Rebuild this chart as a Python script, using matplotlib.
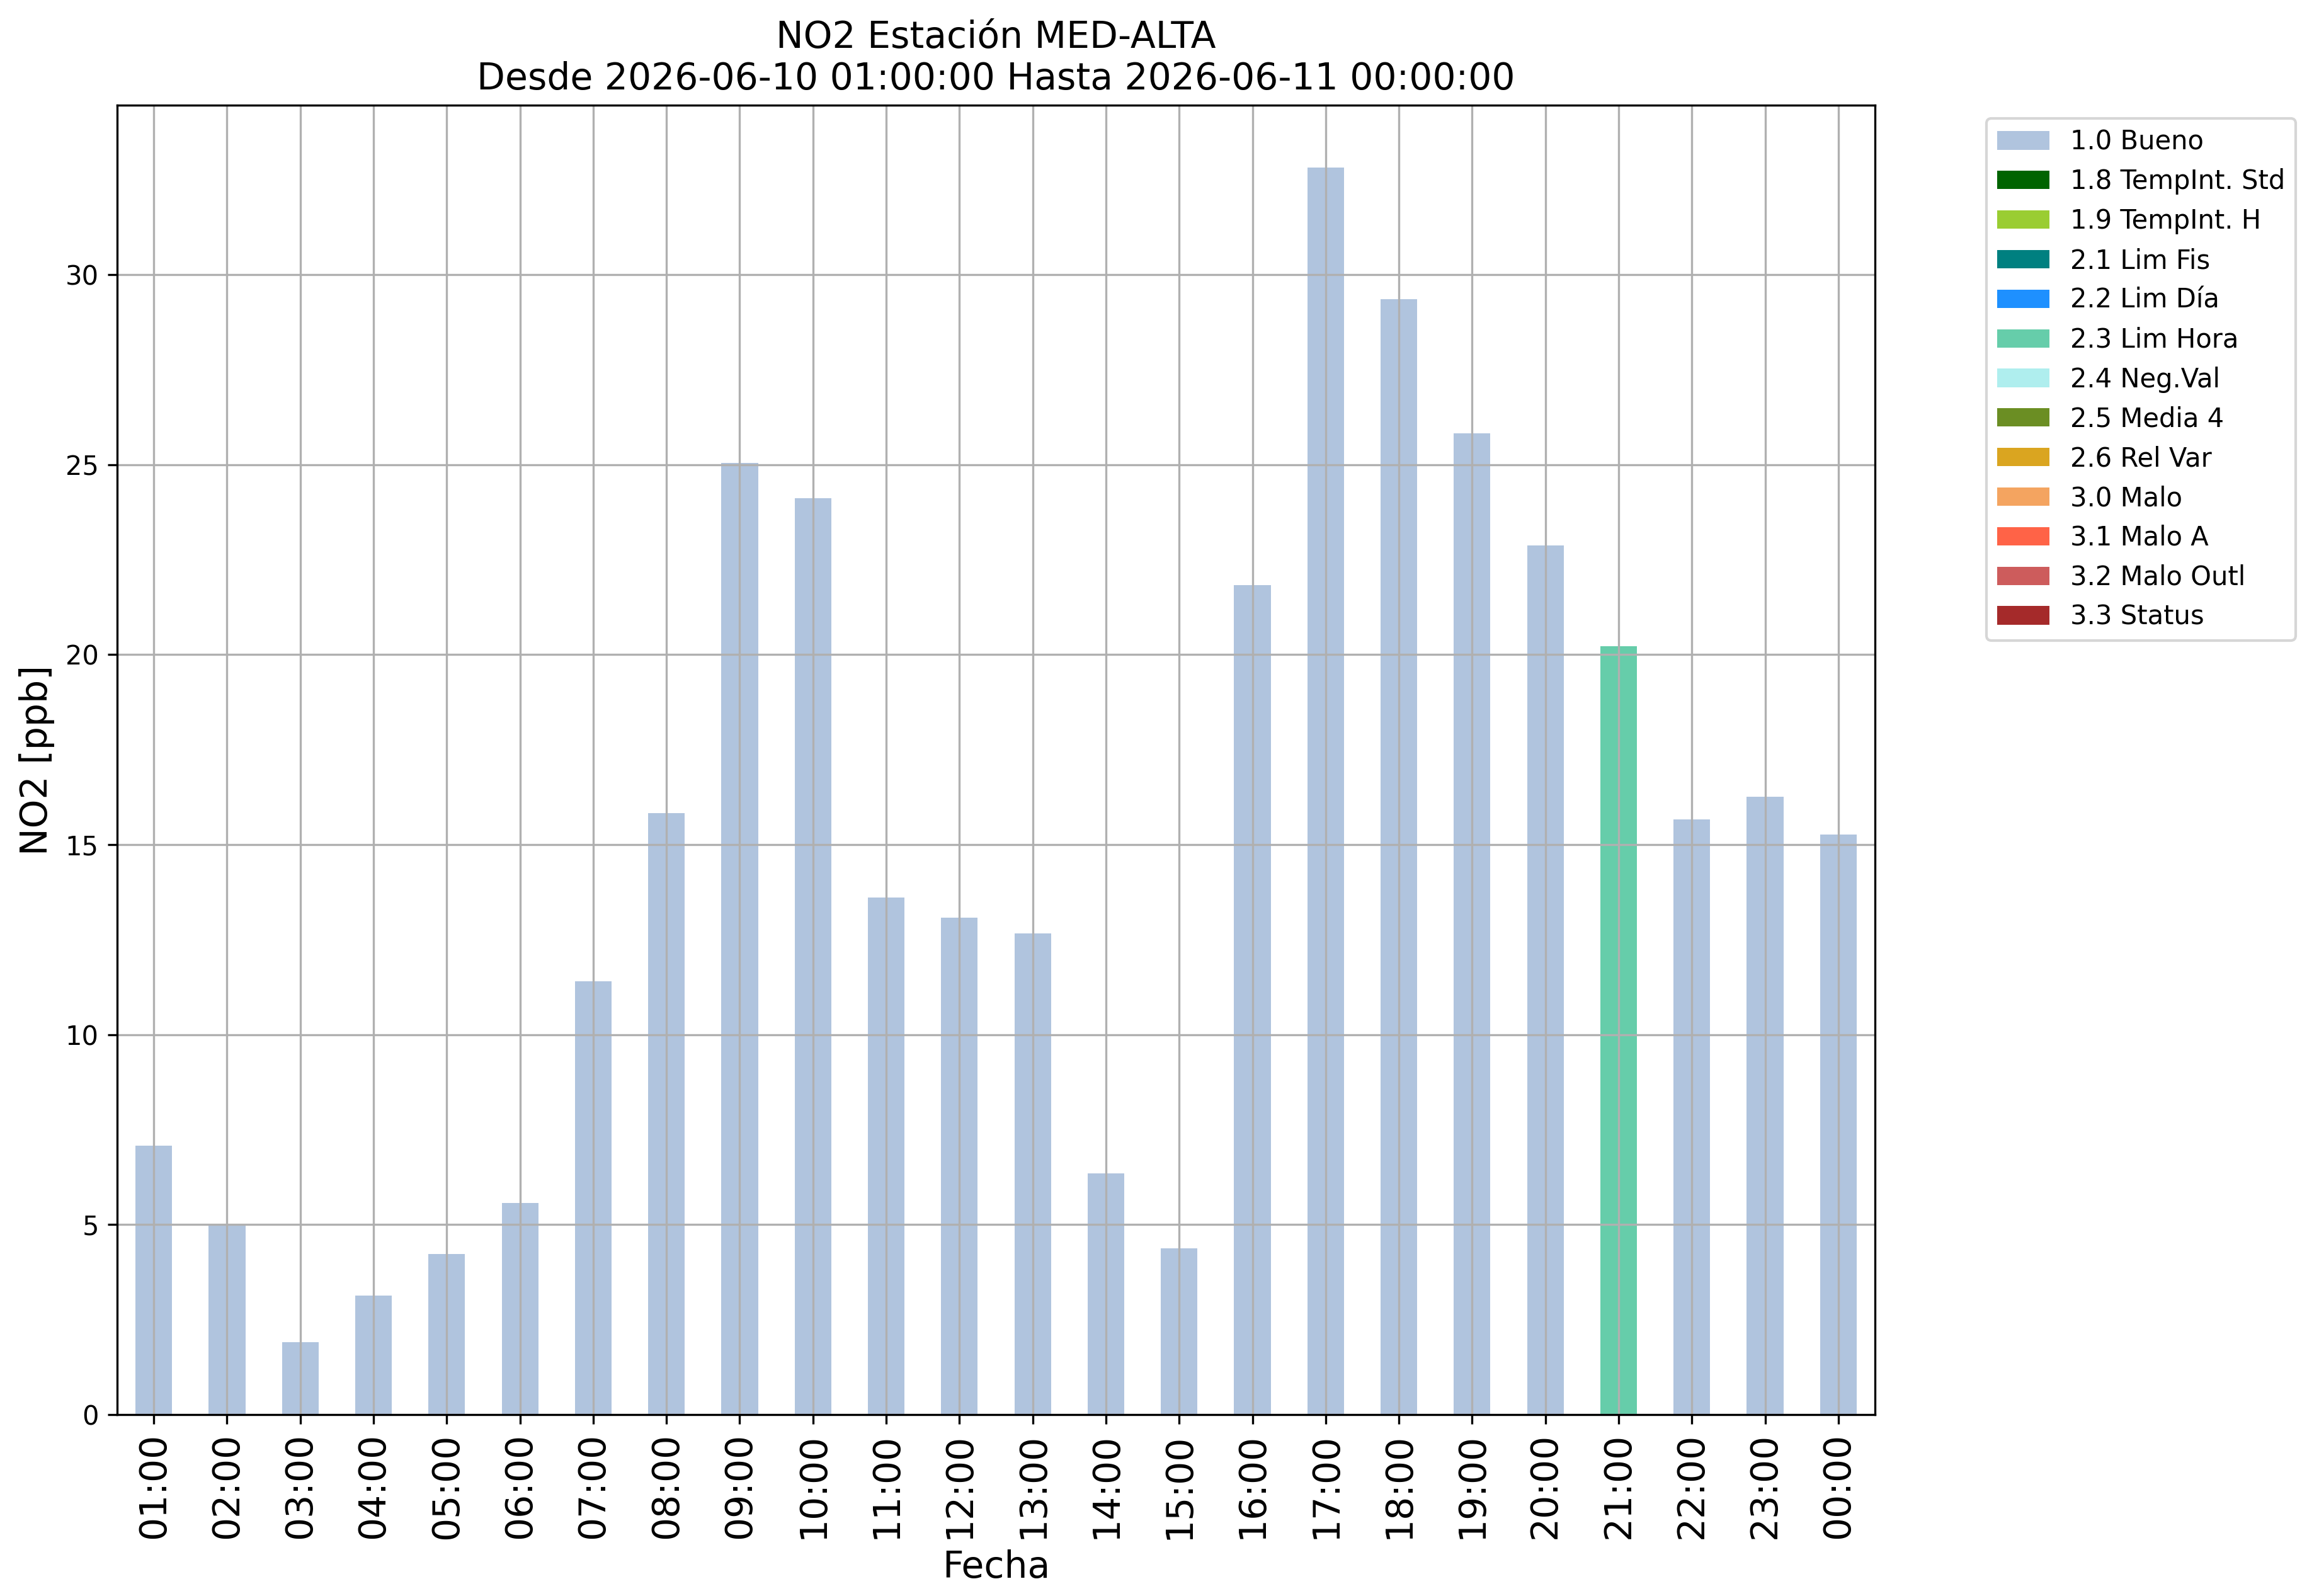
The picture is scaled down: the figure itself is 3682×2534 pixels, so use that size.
import numpy as np
import matplotlib
matplotlib.use("Agg")
import matplotlib.pyplot as plt

horas = ["01:00", "02:00", "03:00", "04:00", "05:00", "06:00", "07:00", "08:00",
         "09:00", "10:00", "11:00", "12:00", "13:00", "14:00", "15:00", "16:00",
         "17:00", "18:00", "19:00", "20:00", "21:00", "22:00", "23:00", "00:00"]
valores = [7.07, 4.98, 1.90, 3.13, 4.23, 5.57, 11.41, 15.83,
           25.05, 24.11, 13.61, 13.07, 12.67, 6.35, 4.37, 21.83,
           32.82, 29.36, 25.82, 22.88, 20.22, 15.67, 16.26, 15.27]
flags = ["1.0"] * 20 + ["2.3"] + ["1.0"] * 3

codigos = ["1.0", "1.8", "1.9", "2.1", "2.2", "2.3", "2.4", "2.5", "2.6",
           "3.0", "3.1", "3.2", "3.3"]
nombres = ["Bueno", "TempInt. Std", "TempInt. H", "Lim Fis", "Lim Día", "Lim Hora",
           "Neg.Val", "Media 4", "Rel Var", "Malo", "Malo A", "Malo Outl", "Status"]
colores = ["lightsteelblue", "darkgreen", "yellowgreen", "teal", "dodgerblue",
           "mediumaquamarine", "paleturquoise", "olivedrab", "goldenrod",
           "sandybrown", "tomato", "indianred", "brown"]

fig = plt.figure(figsize=(3682 / 300, 2534 / 300), dpi=300)
ax = fig.add_axes([186 / 3682, 1 - 2246 / 2534, (2977 - 186) / 3682, (2246 - 167) / 2534])

x = np.arange(len(horas))
vals = np.array(valores)
fl = np.array(flags)
# one hour has only one flag, so each category starts from zero
for cod, nom, col in zip(codigos, nombres, colores):
    h = np.where(fl == cod, vals, 0.0)
    ax.bar(x, h, width=0.5, color=col, label=cod + " " + nom)

ax.set_xlim(-0.5, len(horas) - 0.5)
ax.set_xticks(x)
ax.set_xticklabels(horas, rotation=90, fontsize=14)
ax.tick_params(axis="y", labelsize=10)
ax.grid(True)
ax.set_xlabel("Fecha", fontsize=14)
ax.set_ylabel("NO2 [ppb]", fontsize=14)
ax.set_title("NO2 Estación MED-ALTA\nDesde 2026-06-10 01:00:00 Hasta 2026-06-11 00:00:00",
             fontsize=14)
ax.legend(bbox_to_anchor=(1.056, 1), loc="upper left", fontsize=10)

fig.savefig("out.png", dpi=300)
